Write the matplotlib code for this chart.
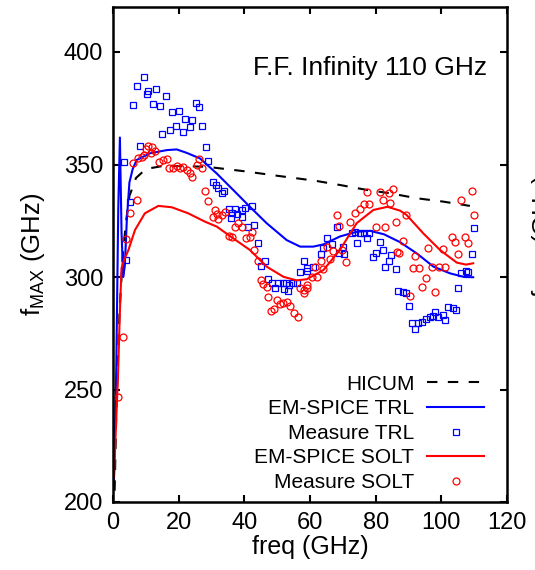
import matplotlib
matplotlib.use("Agg")
import matplotlib.pyplot as plt
import numpy as np

plt.rcParams["font.family"] = ["Liberation Sans", "DejaVu Sans"]
plt.rcParams["mathtext.default"] = "regular"

# HICUM model (dashed black)
hicum_f = [0.5, 1, 2, 3, 4, 5, 7, 10, 15, 20, 28.5, 40, 50, 61.5, 69.1, 77.3, 84.4, 92.5, 100.6, 108.7]
hicum_fmax = [205, 240, 285, 310, 325, 336, 344, 348, 349.3, 349.3, 349, 347, 345, 342.8, 340.9, 338.7,
              337.2, 335, 333.5, 331.6]

# EM-SPICE TRL (blue line)
trl_sim_f = [0.3, 1.0, 1.6, 2.1, 2.6, 3.1, 3.6, 4.2, 5.0, 6.0, 7.2, 11.3, 16.4, 19.4, 22.4, 26.5, 31.6,
             36.6, 41.7, 46.8, 52.9, 57.0, 61.0, 64.1, 69.1, 74.2, 78.3, 82.5, 87.4, 92.5, 97.6, 102.7,
             107.0, 109.7]
trl_sim_fmax = [210, 260, 330, 362, 320, 300, 305, 325, 342, 348, 352, 355, 356.4, 356.7, 355.2, 352.7,
                346, 338.7, 331.2, 323.9, 316.4, 313.5, 313.5, 314.5, 318, 320.1, 320.5, 319, 315.5,
                310.5, 304.6, 301.6, 300, 299.9]

# EM-SPICE SOLT (red line)
solt_sim_f = [0.3, 0.8, 1.5, 2.1, 2.6, 3.5, 4.7, 6.7, 9.7, 13.8, 17.9, 22.9, 28, 31.6, 36.6, 41.7, 46.8,
              51.9, 55.9, 59, 64.1, 69.1, 74.2, 79.3, 83.6, 87.4, 89.4, 94.5, 99.6, 104.7, 107.5, 109.7]
solt_sim_fmax = [211, 230, 255, 285, 304, 308, 312, 320.9, 328.3, 331.6, 331, 328.3, 324.6, 322.4, 317.2,
                 312, 304.6, 300.1, 298.5, 299, 303.1, 312, 323.9, 329.8, 331.2, 329.5, 327.6, 319.4, 312,
                 306.4, 305.5, 306.1]

# Measure TRL (blue squares)
trl_meas_f = [3.3, 3.9, 5.2, 6.0, 7.4, 8.1, 9.4, 10.3, 10.8, 12.3, 13.0, 14.3, 15.0, 16.2, 17.3, 18.1,
              19.2, 20.0, 21.3, 22.0, 23.4, 24.2, 25.3, 26.3, 27.0, 28.2, 29.0, 30.6, 31.4, 32.1, 33.1,
              33.9, 35.2, 35.9, 36.2, 37.1, 37.7, 39.2, 39.4, 40.2, 41.0, 42.2, 43.0, 44.3, 45.1, 46.3,
              47.3, 48.3, 49.3, 50.4, 51.7, 52.1, 52.7, 53.4, 53.7, 54.9, 56.1, 57.0, 58.2, 59.0, 59.2,
              61.0, 63.3, 63.9, 65.3, 66.6, 68.1, 68.9, 70.1, 70.4, 72.7, 73.7, 74.2, 75.2, 76.5, 77.3,
              78.1, 79.1, 80.1, 81.3, 82.1, 82.8, 84.2, 84.7, 86.2, 86.9, 88.4, 89.2, 90.3, 91.2, 92.0,
              93.0, 94.2, 95.3, 96.6, 97.4, 98.2, 99.1, 100.4, 101.1, 102.1, 103.5, 104.4, 105.2, 106.0,
              107.4, 108.2, 109.4, 110.1]
trl_meas_fmax = [351.1, 307.4, 333.5, 376.4, 384.9, 358.2, 389, 381.2, 382.8, 377, 383.4, 375.9, 363.7,
                 380.6, 365.5, 373.2, 367.2, 373.8, 364.4, 370.2, 366.8, 369.6, 377.5, 375.7, 367.2, 357.6,
                 351.7, 342.4, 340.9, 339.4, 337.2, 338.2, 330.1, 326.4, 328.6, 330.1, 327.9, 329.8, 326.8,
                 330.7, 322.4, 331.6, 323.2, 315, 305, 307.2, 299, 297.2, 295.2, 297.5, 297.2, 294.7, 297.5,
                 293.9, 296.4, 297.5, 297.2, 302.4, 307.2, 303.9, 302.8, 304.6, 310.1, 312.8, 317.2, 314.7,
                 322.4, 310.5, 313.5, 310.2, 319.4, 320.1, 315.2, 319.7, 319.4, 317.2, 319.4, 308.7, 310.8,
                 315.7, 312, 304.6, 307.2, 309.8, 303.4, 293.9, 293.5, 293, 287.3, 279.7, 276.9, 279.7,
                 280.1, 281.3, 282.4, 282.7, 284.3, 282.4, 283.1, 280.9, 286.8, 286.4, 285.3, 295.2, 301.6,
                 302.7, 302.4, 310.2, 321.6]

# Measure SOLT (red circles)
solt_meas_f = [1.5, 3.1, 3.9, 5.2, 6.2, 7.2, 7.7, 8.9, 9.5, 10.0, 10.8, 11.6, 12.0, 12.8, 14.1, 15.1,
               16.3, 17.2, 18.4, 19.4, 20.4, 21.4, 22.4, 23.5, 24.2, 25.6, 26.2, 27.0, 28.0, 29.0, 30.4,
               31.1, 31.8, 32.1, 33.1, 34.1, 35.3, 36.3, 37.2, 38.2, 39.2, 40.4, 41.7, 42.2, 43.0, 44.3,
               45.0, 45.8, 46.8, 47.3, 48.0, 49.1, 49.9, 50.9, 51.9, 52.9, 53.9, 55.1, 56.3, 57.0, 58.2,
               58.3, 59.0, 59.2, 60.5, 61.5, 62.0, 63.3, 63.9, 65.3, 66.1, 67.1, 68.1, 68.9, 69.7, 71.0,
               72.2, 73.7, 75.2, 76.5, 77.3, 78.1, 80.1, 81.3, 82.1, 82.8, 84.2, 84.4, 85.2, 86.2, 86.6,
               87.2, 88.2, 89.2, 90.5, 91.3, 92.0, 93.2, 94.0, 95.3, 96.0, 97.3, 98.1, 99.4, 100.4, 101.1,
               103.1, 104.2, 105.2, 106.0, 107.2, 108.0, 109.3, 110.1]
solt_meas_fmax = [246.7, 273.5, 316.8, 328.3, 350.5, 334.2, 353, 353.5, 354.2, 356.7, 358.2, 355.2, 357.6,
                  356.1, 351.2, 352, 352.3, 348.3, 348.6, 349.3, 348.3, 348.8, 347.6, 346.4, 344.6, 349.8,
                  352.3, 348.3, 338.2, 333.8, 326.5, 329.8, 327.9, 325.6, 327.6, 329, 318.2, 317.9, 322.1,
                  323.9, 322.4, 317.5, 317.9, 320.1, 312, 307.2, 298.7, 296.8, 295.7, 291.2, 284.9, 285.6,
                  289.8, 287.9, 288.3, 289, 287.2, 283.9, 282.1, 295, 294.2, 292.7, 296.4, 295, 300.1, 304.6,
                  299.8, 307.2, 303.4, 313.2, 307.8, 311.7, 327.6, 322.7, 312, 306.8, 324.6, 328.3, 330.1,
                  332.4, 337.9, 332.4, 322.1, 337.9, 334.2, 322.1, 337.2, 333, 338.9, 324.6, 311.2, 310.8,
                  316.1, 327.6, 291.6, 303.8, 309.3, 303.8, 295.7, 299.4, 313, 304.3, 293.2, 304.6, 312.4,
                  304.3, 317.6, 315.7, 310.2, 334.2, 317.9, 315, 338.3, 327.6]

blue = "#0000ff"
red = "#ff0000"

fig = plt.figure(figsize=(5.35, 5.7), dpi=100)
ax = fig.add_axes([113 / 535, 1 - 502 / 570, 394 / 535, 495 / 570])

ax.plot(hicum_f, hicum_fmax, color="black", lw=1.5, dashes=(5, 5), label="HICUM")
ax.plot(trl_sim_f, trl_sim_fmax, color=blue, lw=1.5, label="EM-SPICE TRL")
ax.plot(trl_meas_f, trl_meas_fmax, ls="none", marker="s", ms=4.8, mfc="none", mec=blue, mew=0.9,
        label="Measure TRL")
ax.plot(solt_sim_f, solt_sim_fmax, color=red, lw=1.5, label="EM-SPICE SOLT")
ax.plot(solt_meas_f, solt_meas_fmax, ls="none", marker="o", ms=5, mfc="none", mec=red, mew=0.9,
        label="Measure SOLT")

ax.set_xlim(0, 120)
ax.set_ylim(200, 420)
ax.set_xticks(np.arange(0, 121, 20))
ax.set_yticks(np.arange(200, 401, 50))
ax.tick_params(direction="in", top=True, right=True, length=5, width=1.5, labelsize=17, pad=7)
for s in ax.spines.values():
    s.set_linewidth(1.8)

ax.set_xlabel("freq (GHz)", fontsize=18, labelpad=1)
ax.set_ylabel(r"f$_{MAX}$ (GHz)", fontsize=18.5, labelpad=12)

ax.text(0.949, 0.877, "F.F. Infinity 110 GHz", transform=ax.transAxes, ha="right", va="center",
        fontsize=19)

ax.legend(loc="lower right", bbox_to_anchor=(0.942, 0.02), frameon=False, markerfirst=False,
          numpoints=1, fontsize=15, borderpad=0, borderaxespad=0, labelspacing=0.27,
          handlelength=2.75, handletextpad=0.6)

# edge of the neighbouring panel's y label
fig.text(530 / 535, 0.585, r"f$_{MAX}$ (GHz)", rotation=90, ha="left", va="center", fontsize=18.5)

fig.savefig("out.png", dpi=100)
